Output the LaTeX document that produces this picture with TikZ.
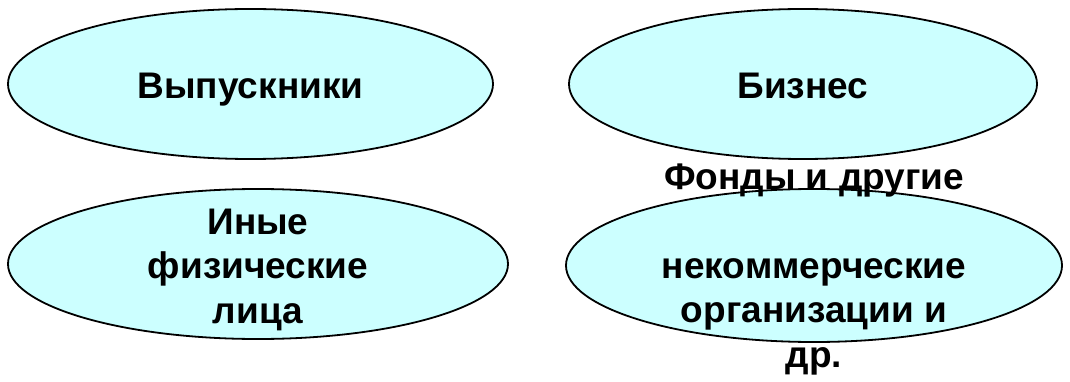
\documentclass[tikz,border=0pt]{standalone}
\usepackage{fontspec}
\setmainfont{Liberation Sans}
\usetikzlibrary{shapes.geometric}
\definecolor{ovalfill}{HTML}{CCFFFF}
\begin{document}
\begin{tikzpicture}[x=1pt,y=-1pt,
  oval/.style={ellipse, draw=black, line width=1.8pt, fill=ovalfill, inner sep=0pt},
  lbl/.style={font=\fontsize{37}{44.5}\selectfont\bfseries, align=center, text=black, inner sep=0pt}]
\useasboundingbox (0,0) rectangle (1070,382);
\fill[white] (0,0) rectangle (1070,382);
\node[oval, minimum width=485pt, minimum height=150pt] (e1) at (250.5,84) {};
\node[oval, minimum width=468pt, minimum height=150pt] (e2) at (803,84) {};
\node[oval, minimum width=500pt, minimum height=150pt] (e3) at (258,264) {};
\node[oval, minimum width=496pt, minimum height=153pt] (e4) at (814,265.5) {};
\node[lbl, anchor=base] (t1) at (250.5,99) {Выпускники};
\node[lbl, anchor=base] (t2) at (803,99) {Бизнес};
\node[lbl, anchor=base] (t3) at (258,323) {Иные\\физические\\лица};
\node[lbl, anchor=base] (t4) at (814,367) {Фонды и другие\\\mbox{}\\некоммерческие\\организации и\\др.};
\end{tikzpicture}
\end{document}
